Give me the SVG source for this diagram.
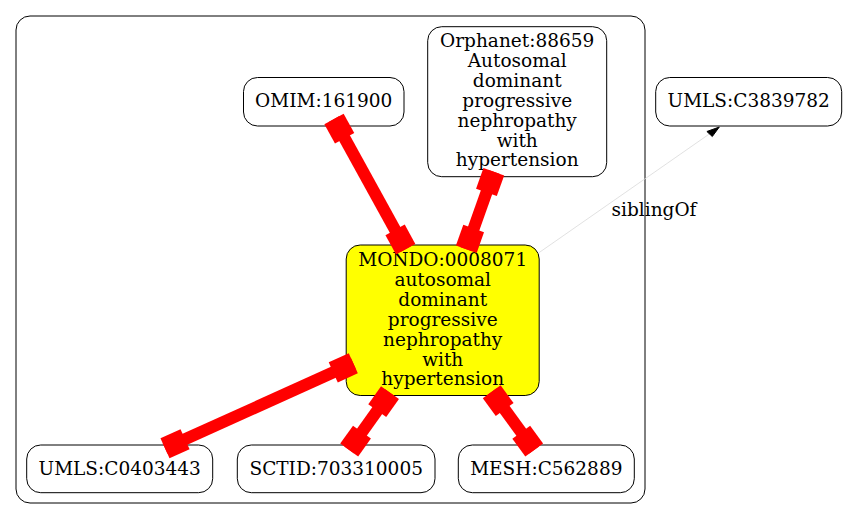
<svg xmlns="http://www.w3.org/2000/svg" width="848" height="520" viewBox="0 0 848 520">
<style>
  text { font-family: "DejaVu Serif", "Liberation Serif", serif; font-size: 18.5px; fill: #000; text-anchor: middle; }
  .node { fill: #fff; stroke: #000; stroke-width: 1; }
  .hl { fill: #ffff00; stroke: #000; stroke-width: 1; }
  .cl { fill: none; stroke: #000; stroke-width: 1; }
  .e { stroke: #ff0000; stroke-width: 12; fill: none; }
  .b { fill: #ff0000; }
  .sib { stroke: #d9d9d9; stroke-width: 0.8; fill: none; }
</style>
<rect width="848" height="520" fill="#fff"/>
<rect id="cluster" class="cl" x="16" y="16" width="629" height="487" rx="14" ry="14"/>

<g id="n_omim">
  <rect class="node" x="243.5" y="77.5" width="160.5" height="48.5" rx="14" ry="14"/>
  <text x="323.7" y="107">OMIM:161900</text>
</g>
<g id="n_orphanet">
  <rect class="node" x="427.7" y="26.7" width="179" height="150" rx="14" ry="14"/>
  <text x="517.2" y="46.5">Orphanet:88659</text>
  <text x="517.2" y="66.5">Autosomal</text>
  <text x="517.2" y="86.5">dominant</text>
  <text x="517.2" y="106.5">progressive</text>
  <text x="517.2" y="126.5">nephropathy</text>
  <text x="517.2" y="146.5">with</text>
  <text x="517.2" y="166">hypertension</text>
</g>
<g id="n_umls3839782">
  <rect class="node" x="655.7" y="77.5" width="186" height="48.5" rx="14" ry="14"/>
  <text x="748.7" y="107">UMLS:C3839782</text>
</g>
<g id="n_mondo">
  <rect class="hl" x="346.2" y="245" width="193" height="150.5" rx="14" ry="14"/>
  <text x="442.7" y="265.5">MONDO:0008071</text>
  <text x="442.7" y="285.5">autosomal</text>
  <text x="442.7" y="305.5">dominant</text>
  <text x="442.7" y="325.5">progressive</text>
  <text x="442.7" y="345.5">nephropathy</text>
  <text x="442.7" y="365.5">with</text>
  <text x="442.7" y="385">hypertension</text>
</g>
<g id="n_umls0403443">
  <rect class="node" x="26.7" y="445" width="186" height="47.7" rx="14" ry="14"/>
  <text x="119.7" y="474.5">UMLS:C0403443</text>
</g>
<g id="n_sctid">
  <rect class="node" x="237.3" y="445" width="197.7" height="47.7" rx="14" ry="14"/>
  <text x="336.2" y="474.5">SCTID:703310005</text>
</g>
<g id="n_mesh">
  <rect class="node" x="458.3" y="445" width="176" height="47.7" rx="14" ry="14"/>
  <text x="546.3" y="474.5">MESH:C562889</text>
</g>

<g id="connectors">
  <g id="e1">
    <line class="e" x1="334" y1="119" x2="405.7" y2="249.2"/>
    <rect class="b" x="0" y="-11" width="22" height="22" transform="translate(334,119) rotate(61.15)"/>
    <rect class="b" x="0" y="-11" width="22" height="22" transform="translate(405.7,249.2) rotate(241.15)"/>
  </g>
  <g id="e2">
    <line class="e" x1="493.8" y1="171.7" x2="466.3" y2="249.2"/>
    <rect class="b" x="0" y="-11" width="22" height="22" transform="translate(493.8,171.7) rotate(109.54)"/>
    <rect class="b" x="0" y="-11" width="22" height="22" transform="translate(466.3,249.2) rotate(289.54)"/>
  </g>
  <g id="e3">
    <line class="e" x1="353.3" y1="363.3" x2="165" y2="448.3"/>
    <rect class="b" x="0" y="-11" width="22" height="22" transform="translate(353.3,363.3) rotate(155.7)"/>
    <rect class="b" x="0" y="-11" width="22" height="22" transform="translate(165,448.3) rotate(335.7)"/>
  </g>
  <g id="e4">
    <line class="e" x1="390" y1="392.7" x2="349.2" y2="450"/>
    <rect class="b" x="0" y="-11" width="22" height="22" transform="translate(390,392.7) rotate(125.45)"/>
    <rect class="b" x="0" y="-11" width="22" height="22" transform="translate(349.2,450) rotate(305.45)"/>
  </g>
  <g id="e5">
    <line class="e" x1="491.7" y1="391.7" x2="534.2" y2="450"/>
    <rect class="b" x="0" y="-11" width="22" height="22" transform="translate(491.7,391.7) rotate(53.9)"/>
    <rect class="b" x="0" y="-11" width="22" height="22" transform="translate(534.2,450) rotate(233.9)"/>
  </g>
  <g id="e6">
    <line class="sib" x1="538.5" y1="253" x2="710" y2="133.5"/>
    <polygon points="719.3,127 706.9,131.5 712.3,136.5" fill="#000" stroke="#000" stroke-width="1"/>
    <text x="654" y="216">siblingOf</text>
  </g>
</g>
</svg>
